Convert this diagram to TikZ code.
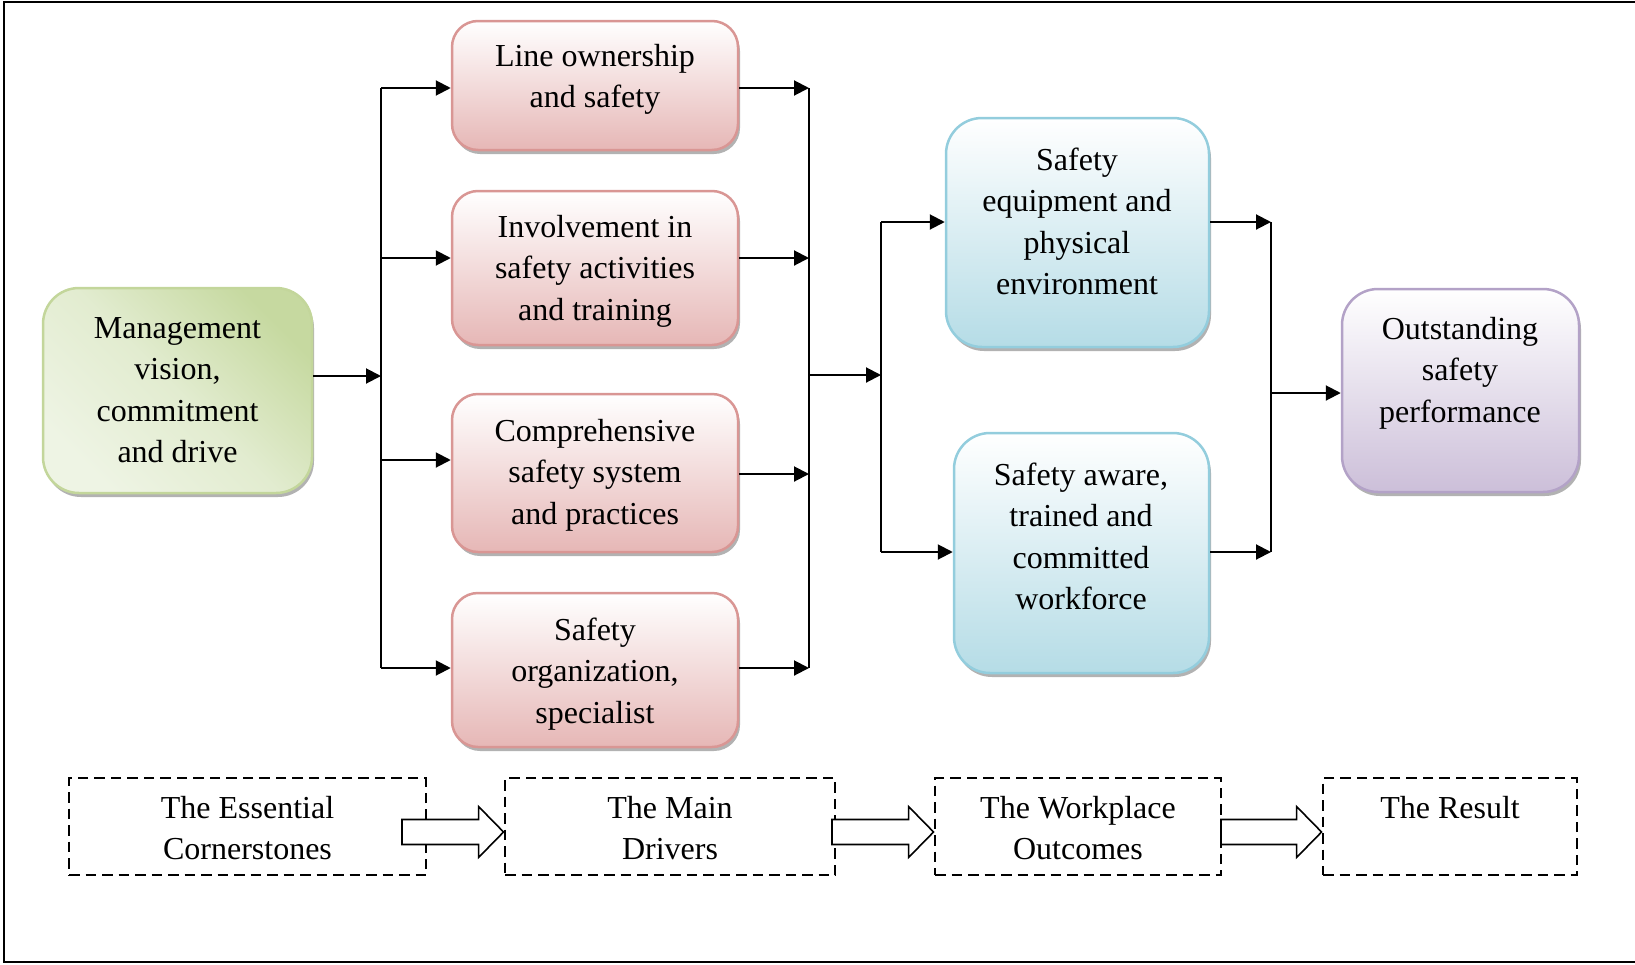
\documentclass[tikz,border=0pt]{standalone}
\usepackage{fontspec}
\setmainfont{Liberation Serif}
\usetikzlibrary{arrows.meta,shadows,calc}
\definecolor{redB}{HTML}{D99694}
\definecolor{redF}{HTML}{E6B7B6}
\definecolor{bluB}{HTML}{93CDDD}
\definecolor{bluF}{HTML}{B5DCE6}
\definecolor{purB}{HTML}{B3A2C7}
\definecolor{purF}{HTML}{CCBFD9}
\definecolor{grnB}{HTML}{C3D69B}
\definecolor{grnD}{HTML}{C6D9A0}
\definecolor{grnL}{HTML}{EEF4E4}
\newcommand\blkarrow[2]{\draw[barrow] ($(#1)+(0,-12.5)$) -- ($(#2)+(-25,-12.5)$) -- ($(#2)+(-25,-25.5)$) -- (#2) -- ($(#2)+(-25,25.5)$) -- ($(#2)+(-25,12.5)$) -- ($(#1)+(0,12.5)$) -- cycle;}
\begin{document}
\begin{tikzpicture}[x=1pt,y=-1pt,
  every node/.style={inner sep=0pt},
  shbox/.style={line width=2.5pt, drop shadow={shadow xshift=2pt, shadow yshift=-4pt, fill=black, opacity=0.3}},
  redbox/.style={shbox, rounded corners=26pt, draw=redB, top color=white, bottom color=redF, minimum width=286},
  blubox/.style={shbox, rounded corners=36pt, draw=bluB, top color=white, bottom color=bluF},
  purbox/.style={shbox, rounded corners=36pt, draw=purB, top color=white, bottom color=purF},
  grnbox/.style={shbox, rounded corners=36pt, draw=grnB, top color=grnD, bottom color=grnL, middle color=grnL!70!grnD, shading angle=-45},
  dbox/.style={draw=black, line width=2.9pt, dash pattern=on 10.5pt off 6pt, minimum height=97},
  txt/.style={anchor=base, align=center, font=\fontsize{32}{41.5}\selectfont},
  ln/.style={draw=black, line width=2pt},
  arr/.style={ln, -{Triangle[length=15pt,width=15pt]}},
  barrow/.style={draw=black, line width=1.6pt, fill=white, line join=miter}
]
\useasboundingbox (0,0) rectangle (1635,964);
% frame
\draw[line width=2pt] (1645,2) -- (4,2) -- (4,962) -- (1645,962);

% boxes
\node[grnbox, minimum width=269, minimum height=205] (g) at (177.5,390.5) {};
\node[redbox, minimum height=129] (r1) at (595,85.5) {};
\node[redbox, minimum height=154] (r2) at (595,268) {};
\node[redbox, minimum height=158] (r3) at (595,473) {};
\node[redbox, minimum height=154] (r4) at (595,670) {};
\node[blubox, minimum width=263, minimum height=229] (b1) at (1077.5,232.5) {};
\node[blubox, minimum width=255, minimum height=240] (b2) at (1081.5,553) {};
\node[purbox, minimum width=237, minimum height=203] (p) at (1460.5,390.5) {};

% texts (anchor = baseline of last line)
\node[txt] (tg) at (177.5,462.5) {Management\\vision,\\commitment\\and drive};
\node[txt] (tr1) at (595,107.5) {Line ownership\\and safety};
\node[txt] (tr2) at (595,320) {Involvement in\\safety activities\\and training};
\node[txt] (tr3) at (595,524) {Comprehensive\\safety system\\and practices};
\node[txt] (tr4) at (595,723) {Safety\\organization,\\specialist};
\node[txt] (tb1) at (1077,294.5) {Safety\\equipment and\\physical\\environment};
\node[txt] (tb2) at (1081,609.5) {Safety aware,\\trained and\\committed\\workforce};
\node[txt] (tp) at (1460,422) {Outstanding\\safety\\performance};

% bottom dashed boxes
\node[dbox, minimum width=357] (e1) at (247.5,826.5) {};
\node[dbox, minimum width=330] (e2) at (670,826.5) {};
\node[dbox, minimum width=286] (e3) at (1078,826.5) {};
\node[dbox, minimum width=254] (e4) at (1450,826.5) {};
\node[txt] (te1) at (247.5,859.5) {The Essential\\Cornerstones};
\node[txt] (te2) at (670,859.5) {The Main\\Drivers};
\node[txt] (te3) at (1078,859.5) {The Workplace\\Outcomes};
\node[txt] (te4) at (1450,818) {The Result};

% block arrows
\coordinate (A1t) at (402,832);
\coordinate (A1h) at (e2.west |- A1t);
\coordinate (A2t) at (832,832);
\coordinate (A2h) at (e3.west |- A2t);
\coordinate (A3t) at (1221,832);
\coordinate (A3h) at (e4.west |- A3t);
\blkarrow{A1t}{A1h}
\blkarrow{A2t}{A2h}
\blkarrow{A3t}{A3h}

% left bus
\coordinate (L0) at (381,376);
\coordinate (L1) at (381,88);
\coordinate (L2) at (381,258);
\coordinate (L3) at (381,460);
\coordinate (L4) at (381,668);
\draw[ln] (L1) -- (L4);
\draw[arr] (g.east |- L0) -- (L0);
\draw[arr] (L1) -- (r1.west |- L1);
\draw[arr] (L2) -- (r2.west |- L2);
\draw[arr] (L3) -- (r3.west |- L3);
\draw[arr] (L4) -- (r4.west |- L4);

% right bus of drivers
\coordinate (R0) at (809,375);
\coordinate (R1) at (809,88);
\coordinate (R2) at (809,258);
\coordinate (R3) at (809,474);
\coordinate (R4) at (809,668);
\draw[ln] (R1) -- (R4);
\draw[arr] (r1.east |- R1) -- (R1);
\draw[arr] (r2.east |- R2) -- (R2);
\draw[arr] (r3.east |- R3) -- (R3);
\draw[arr] (r4.east |- R4) -- (R4);

% middle bus
\coordinate (M0) at (881,375);
\coordinate (M1) at (881,222);
\coordinate (M2) at (881,552);
\draw[arr] (R0) -- (M0);
\draw[ln] (M1) -- (M2);
\draw[arr] (M1) -- (b1.west |- M1);
\draw[arr] (M2) -- (b2.west |- M2);

% outcomes bus
\coordinate (S0) at (1271,393);
\coordinate (S1) at (1271,222);
\coordinate (S2) at (1271,552);
\draw[arr] (b1.east |- S1) -- (S1);
\draw[arr] (b2.east |- S2) -- (S2);
\draw[ln] (S1) -- (S2);
\draw[arr] (S0) -- (p.west |- S0);
\end{tikzpicture}
\end{document}
